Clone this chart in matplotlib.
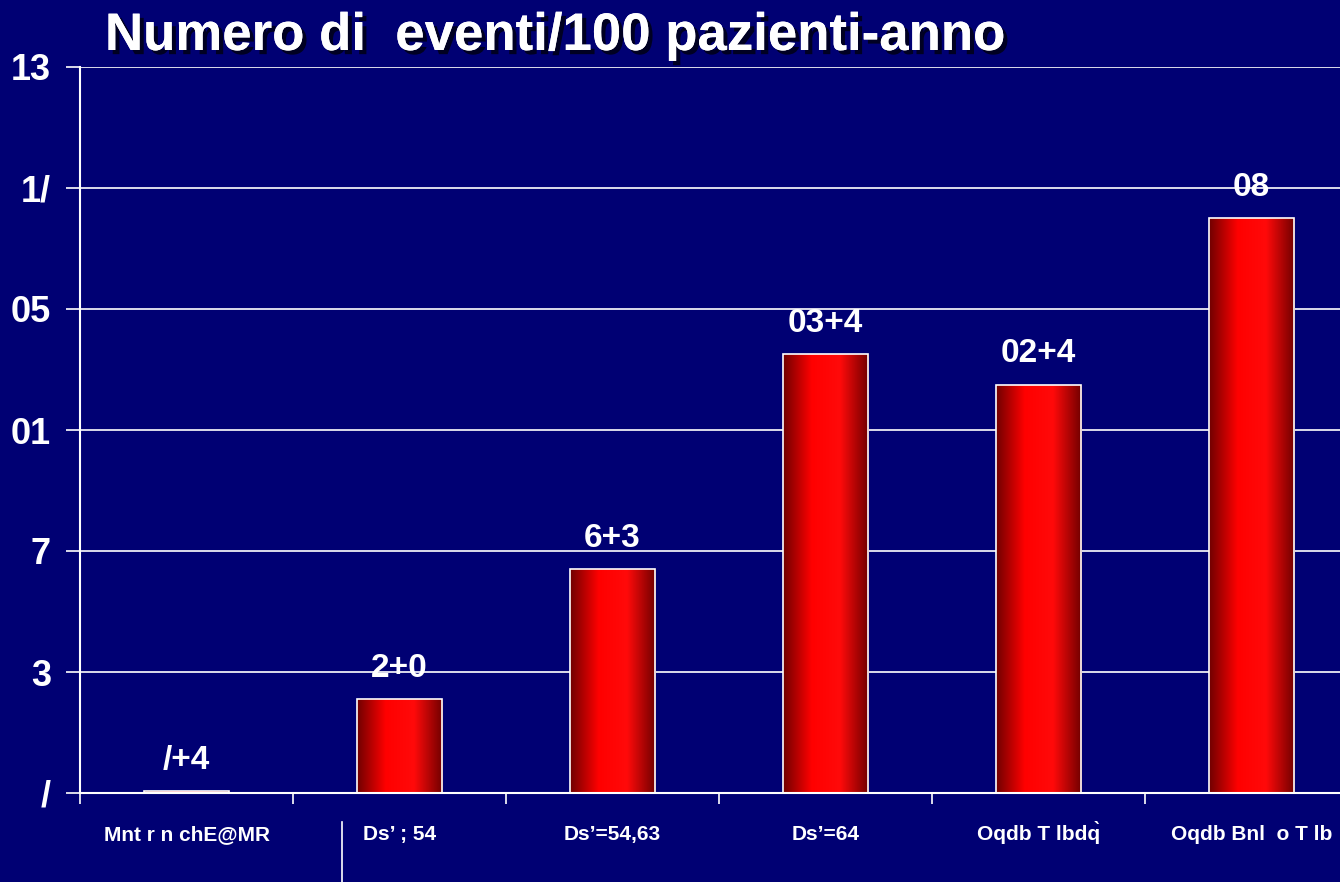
import matplotlib
matplotlib.use("Agg")
import matplotlib.pyplot as plt
import matplotlib.patheffects as pe
from matplotlib.colors import LinearSegmentedColormap
from matplotlib.patches import Rectangle
import numpy as np

# chart data (labels kept exactly as rendered in the reference)
categories = ["Mnt r n chE@MR", "Ds\u2019 ; 54", "Ds\u2019=54,63", "Ds\u2019=64", "Oqdb T lbdq\u0300", "Oqdb Bnl  o T lb"]
values = [0.05, 3.1, 7.4, 14.5, 13.5, 19.0]
value_labels = ["/+4", "2+0", "6+3", "03+4", "02+4", "08"]
y_ticks = [0, 4, 8, 12, 16, 20, 24]
y_tick_labels = ["/", "3", "7", "01", "05", "1/", "13"]
title = "Numero di  eventi/100 pazienti-anno"

bg = "#000073"
plt.rcParams['font.family'] = ['Liberation Sans', 'DejaVu Sans']

fig = plt.figure(figsize=(13.4, 8.82), dpi=100, facecolor=bg)
ax = fig.add_axes([80 / 1340, 1 - 793 / 882, 1260 / 1340, 726 / 882])
ax.set_facecolor(bg)

xs = np.arange(len(categories))

ax.set_yticks(y_ticks)
ax.set_yticklabels(y_tick_labels, fontsize=26, fontweight='bold', color='white')
ax.yaxis.grid(True, color='white', linewidth=1.2)
ax.set_axisbelow(True)
ax.tick_params(axis='y', length=10, width=1.2, color='white', pad=11)

ax.set_xticks(xs)
ax.set_xticklabels(categories, fontsize=15, fontweight='bold', color='white')
for t in ax.get_xticklabels():
    t.set_verticalalignment('baseline')
ax.set_xticks(np.arange(-0.5, len(categories)), minor=True)
ax.tick_params(axis='x', which='major', length=0, pad=34)
ax.tick_params(axis='x', which='minor', length=8, width=1.2, color='white', direction='out')

for s in ['top', 'right']:
    ax.spines[s].set_visible(False)
for s in ['left', 'bottom']:
    ax.spines[s].set_color('white')
    ax.spines[s].set_linewidth(1.5)

cmap = LinearSegmentedColormap.from_list('barred', ['#700000', '#ff0000', '#ff0a0a', '#700000'])
grad = np.linspace(0, 1, 256).reshape(1, -1)
bw = 0.4
for x, v, lab in zip(xs, values, value_labels):
    rect = Rectangle((x - bw / 2, 0), bw, v, facecolor='none', edgecolor='white', linewidth=1.2, zorder=3)
    ax.add_patch(rect)
    im = ax.imshow(grad, cmap=cmap, aspect='auto', extent=(x - bw / 2, x + bw / 2, 0, v), zorder=2)
    im.set_clip_path(rect)
    ax.text(x, v + 0.5, lab, ha='center', va='bottom', fontsize=24, fontweight='bold', color='white', zorder=4)

ax.set_xlim(-0.5, -0.5 + 1260 / 213)
ax.set_ylim(0, 24)

fig.text(105 / 1340, 1 - 36 / 882, title, ha='left', va='center', fontsize=38, fontweight='bold', color='white',
         path_effects=[pe.withSimplePatchShadow(offset=(3, -3), shadow_rgbFace='black', alpha=0.7), pe.Normal()])

# stray vertical line below the axis
fig.add_artist(plt.Line2D([342 / 1340, 342 / 1340], [0, 1 - 822 / 882], color='white', linewidth=1.2))

fig.savefig("out.png", dpi=100, facecolor=bg)
